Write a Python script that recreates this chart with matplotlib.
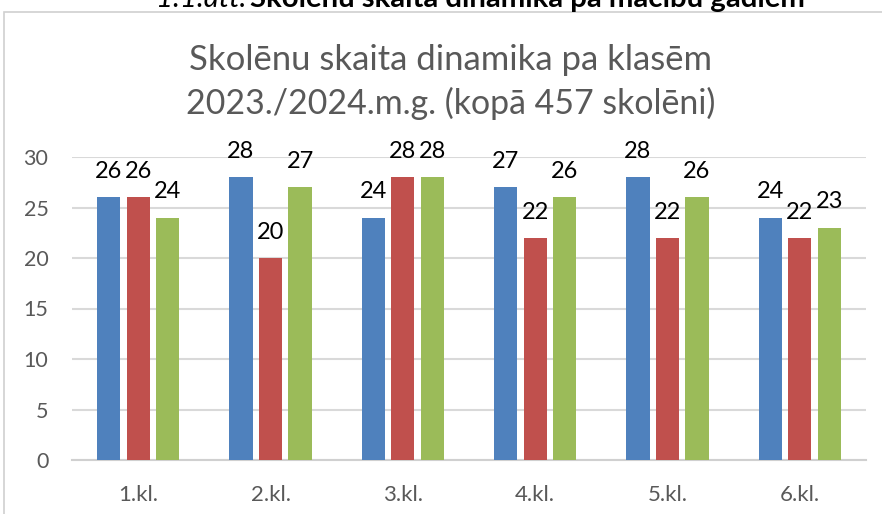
import numpy as np
import matplotlib.pyplot as plt
from matplotlib.patches import Rectangle

# ============================
# Data
# ============================
categories = ["1.kl.", "2.kl.", "3.kl.", "4.kl.", "5.kl.", "6.kl."]
series_blue = [26, 28, 24, 27, 28, 24]
series_red = [26, 20, 28, 22, 22, 22]
series_green = [24, 27, 28, 26, 26, 23]
y_ticks = [0, 5, 10, 15, 20, 25, 30]

title_lines = ["Skolēnu skaita dinamika pa klasēm",
               "2023./2024.m.g. (kopā 457 skolēni)"]
caption_it = "1.1.att."
caption_bold = "Skolēnu skaita dinamika pa mācību gadiem"

colors = ["#4F81BD", "#C0504D", "#9BBB59"]
plt.rcParams["font.family"] = ["Lato", "DejaVu Sans"]

W, H = 882, 514
fig = plt.figure(figsize=(W / 100, H / 100), dpi=100)
renderer = fig.canvas.get_renderer()


def fit_width(txt, target_px):
    # shrink/grow font so the text spans about target_px
    w = txt.get_window_extent(renderer=renderer).width
    txt.set_fontsize(txt.get_fontsize() * target_px / w)


# chart frame (runs past the right/bottom edge, like the screenshot)
fig.patches.append(Rectangle((4 / W, -0.1), 1.2, 1 - 12 / H + 0.1,
                             transform=fig.transFigure, fill=False,
                             edgecolor="#d0d0d0", linewidth=1.2))

# clipped caption at the very top (cut off in the source screenshot too)
t2 = fig.text(250 / W, 1 - 7 / H, caption_bold, fontsize=15, weight="bold",
              ha="left", va="baseline", color="black")
fit_width(t2, 557)
fig.text(246 / W, 1 - 7 / H, caption_it, fontsize=t2.get_fontsize(),
         style="italic", ha="right", va="baseline", color="black")

ax = fig.add_axes([72 / W, 1 - 460 / H, (866 - 72) / W, (460 - 157) / H])

x = np.arange(len(categories))
step = 0.223
width = 0.175
for i, (vals, c) in enumerate(zip([series_blue, series_red, series_green], colors)):
    pos = x + (i - 1) * step
    bars = ax.bar(pos, vals, width=width, color=c, zorder=3)
    for b, v in zip(bars, vals):
        ax.annotate(str(v), (b.get_x() + b.get_width() / 2, v),
                    xytext=(0, 11), textcoords="offset points",
                    ha="center", va="bottom", fontsize=17, color="black")

ax.set_xlim(-0.5, len(categories) - 0.5)
ax.set_ylim(0, 30)
ax.set_yticks(y_ticks)
ax.set_xticks(x)
ax.set_xticklabels(categories)
ax.tick_params(axis="both", length=0, colors="#595959")
ax.tick_params(axis="x", pad=18, labelsize=16)
ax.tick_params(axis="y", pad=17, labelsize=15.5)
ax.grid(axis="y", color="#d9d9d9", linewidth=1.5, zorder=0)
for s in ["top", "right", "left"]:
    ax.spines[s].set_visible(False)
ax.spines["bottom"].set_color("#d0d0d0")
ax.spines["bottom"].set_linewidth(1.5)

for line, yc, wpx in zip(title_lines, [60, 103], [522, 531]):
    t = fig.text(0.5 * (185 + 716) / W, 1 - yc / H, line, ha="center",
                 va="center", fontsize=24, color="#595959")
    fit_width(t, wpx)

fig.savefig("out.png", dpi=100)
